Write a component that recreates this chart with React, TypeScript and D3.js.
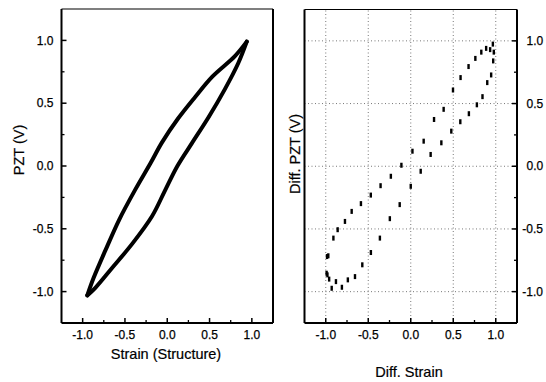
import React from "react";
import * as d3 from "d3";

// Left panel: hysteresis loop, Strain (Structure) vs PZT (V)
const upStrain = [-0.945, -0.87, -0.73, -0.57, -0.38, -0.2, -0.06, 0.13, 0.33, 0.53, 0.8, 0.94];
const upPzt = [-1.03, -0.89, -0.67, -0.43, -0.19, 0.02, 0.19, 0.38, 0.55, 0.71, 0.875, 0.99];
const downStrain = [0.94, 0.84, 0.68, 0.49, 0.29, 0.12, -0.03, -0.18, -0.415, -0.65, -0.85, -0.945];
const downPzt = [0.99, 0.82, 0.61, 0.39, 0.18, 0.0, -0.2, -0.4, -0.62, -0.81, -0.97, -1.03];

// Right panel: Diff. Strain vs Diff. PZT (V) sample points
const diffStrain = [
  -0.98, -0.97, -0.985, -0.91, -0.86, -0.774, -0.695, -0.586, -0.47, -0.355, -0.234, -0.11,
  0.02, 0.152, 0.274, 0.387, 0.497, 0.586, 0.68, 0.76, 0.83, 0.887, 0.934, 0.966, 0.977,
  0.97, 0.946, 0.9, 0.844, 0.778, 0.684, 0.583, 0.477, 0.36, 0.234, 0.117, 0.0, -0.13,
  -0.246, -0.363, -0.469, -0.57, -0.656, -0.74, -0.81, -0.88, -0.93, -0.96, -0.99,
];
const diffPzt = [
  -0.866, -0.714, -0.72, -0.573, -0.506, -0.44, -0.36, -0.298, -0.23, -0.155, -0.08, 0.008,
  0.12, 0.2, 0.373, 0.454, 0.608, 0.707, 0.795, 0.86, 0.91, 0.94, 0.93, 0.974, 0.91,
  0.84, 0.728, 0.667, 0.555, 0.49, 0.419, 0.355, 0.28, 0.187, 0.094, -0.04, -0.16, -0.306,
  -0.418, -0.573, -0.688, -0.786, -0.88, -0.906, -0.965, -0.92, -0.973, -0.9, -0.853,
];

const majorTicks = [-1, -0.5, 0, 0.5, 1];
const minorTicks = [-0.75, -0.25, 0.25, 0.75];
const tickLabels = ["-1.0", "-0.5", "0.0", "0.5", "1.0"];

const W = 546;
const H = 382;
const FONT = "'Liberation Sans', Arial, Helvetica, sans-serif";

const xL = d3.scaleLinear().domain([-1.25, 1.25]).range([61.5, 273]);
const yL = d3.scaleLinear().domain([-1.25, 1.25]).range([323, 9]);
const xR = d3.scaleLinear().domain([-1.25, 1.25]).range([304.5, 517]);
const yR = d3.scaleLinear().domain([-1.25, 1.25]).range([323, 9.5]);

export default function App() {
  const upPts: [number, number][] = upStrain.map((s, i) => [xL(s), yL(upPzt[i])]);
  const downPts: [number, number][] = downStrain.map((s, i) => [xL(s), yL(downPzt[i])]);
  const pathGen = d3.line().curve(d3.curveCatmullRom.alpha(0.5));

  const [lx0, lx1] = xL.range();
  const [ly0, ly1] = yL.range();
  const [rx0, rx1] = xR.range();
  const [ry0, ry1] = yR.range();

  return (
    <svg
      width={W}
      height={H}
      style={{ position: "absolute", left: 0, top: 0, background: "#fff" }}
      fontFamily={FONT}
    >
      <rect x={0} y={0} width={W} height={H} fill="#fff" />

      {/* ---------- LEFT PANEL ---------- */}
      <g>
        <path d={pathGen(upPts) || ""} fill="none" stroke="#000" strokeWidth={4} strokeLinecap="round" strokeLinejoin="round" />
        <path d={pathGen(downPts) || ""} fill="none" stroke="#000" strokeWidth={4} strokeLinecap="round" strokeLinejoin="round" />

        {/* frame */}
        <line x1={lx0} y1={ly1} x2={lx1} y2={ly1} stroke="#000" strokeWidth={1.2} />
        <line x1={lx1} y1={ly1} x2={lx1} y2={ly0} stroke="#000" strokeWidth={2} />
        <line x1={lx0} y1={ly1} x2={lx0} y2={ly0} stroke="#000" strokeWidth={2} />
        <line x1={lx0} y1={ly0} x2={lx1} y2={ly0} stroke="#000" strokeWidth={2} />

        {/* x ticks */}
        {majorTicks.map((t) => (
          <line key={"lxM" + t} x1={xL(t)} x2={xL(t)} y1={ly0} y2={ly0 - 5} stroke="#000" strokeWidth={1.5} />
        ))}
        {minorTicks.map((t) => (
          <line key={"lxm" + t} x1={xL(t)} x2={xL(t)} y1={ly0} y2={ly0 - 3} stroke="#000" strokeWidth={1.3} />
        ))}
        {majorTicks.map((t, i) => (
          <text key={"lxl" + t} x={xL(t)} y={339} fontSize={12} textAnchor="middle" fill="#000" stroke="#000" strokeWidth={0.25}>
            {tickLabels[i]}
          </text>
        ))}

        {/* y ticks */}
        {majorTicks.map((t) => (
          <line key={"lyM" + t} x1={lx0} x2={lx0 + 5} y1={yL(t)} y2={yL(t)} stroke="#000" strokeWidth={1.5} />
        ))}
        {minorTicks.map((t) => (
          <line key={"lym" + t} x1={lx0} x2={lx0 + 3} y1={yL(t)} y2={yL(t)} stroke="#000" strokeWidth={1.3} />
        ))}
        {majorTicks.map((t, i) => (
          <text key={"lyl" + t} x={53.5} y={yL(t) + 4.2} fontSize={12} textAnchor="end" fill="#000" stroke="#000" strokeWidth={0.25}>
            {tickLabels[i]}
          </text>
        ))}

        <text x={166} y={359} fontSize={14.5} textAnchor="middle" fill="#000" stroke="#000" strokeWidth={0.2}>
          Strain (Structure)
        </text>
        <text
          transform={`translate(23.5,150) rotate(-90)`}
          fontSize={14.5}
          textAnchor="middle"
          fill="#000"
          stroke="#000"
          strokeWidth={0.2}
        >
          PZT (V)
        </text>
      </g>

      {/* ---------- RIGHT PANEL ---------- */}
      <g>
        {/* grid */}
        {majorTicks.map((t) => (
          <line key={"rgx" + t} x1={xR(t)} x2={xR(t)} y1={ry0} y2={ry1} stroke="#555" strokeWidth={0.8} strokeDasharray="1,2.5" />
        ))}
        {majorTicks.map((t) => (
          <line key={"rgy" + t} x1={rx0} x2={rx1} y1={yR(t)} y2={yR(t)} stroke="#555" strokeWidth={0.8} strokeDasharray="1,2.5" />
        ))}

        {/* points */}
        {diffStrain.map((s, i) => (
          <rect
            key={"pt" + i}
            x={xR(s) - 1.2}
            y={yR(diffPzt[i]) - 2.5}
            width={2.4}
            height={5}
            fill="#000"
          />
        ))}

        {/* frame */}
        <line x1={rx0} y1={ry1} x2={rx1} y2={ry1} stroke="#000" strokeWidth={1.2} />
        <line x1={rx0} y1={ry1} x2={rx0} y2={ry0} stroke="#000" strokeWidth={2} />
        <line x1={rx1} y1={ry1} x2={rx1} y2={ry0} stroke="#000" strokeWidth={2} />
        <line x1={rx0} y1={ry0} x2={rx1} y2={ry0} stroke="#000" strokeWidth={2} />

        {/* x ticks */}
        {majorTicks.map((t) => (
          <line key={"rxM" + t} x1={xR(t)} x2={xR(t)} y1={ry0} y2={ry0 - 5} stroke="#000" strokeWidth={1.5} />
        ))}
        {minorTicks.map((t) => (
          <line key={"rxm" + t} x1={xR(t)} x2={xR(t)} y1={ry0} y2={ry0 - 3} stroke="#000" strokeWidth={1.3} />
        ))}
        {majorTicks.map((t, i) => (
          <text key={"rxl" + t} x={xR(t)} y={339} fontSize={12} textAnchor="middle" fill="#000" stroke="#000" strokeWidth={0.25}>
            {tickLabels[i]}
          </text>
        ))}

        {/* y ticks (right side, inward) */}
        {majorTicks.map((t) => (
          <line key={"ryM" + t} x1={rx1} x2={rx1 - 5} y1={yR(t)} y2={yR(t)} stroke="#000" strokeWidth={1.5} />
        ))}
        {minorTicks.map((t) => (
          <line key={"rym" + t} x1={rx1} x2={rx1 - 3} y1={yR(t)} y2={yR(t)} stroke="#000" strokeWidth={1.3} />
        ))}
        {majorTicks.map((t, i) => (
          <text key={"ryl" + t} x={t < 0 ? 522.3 : 526.5} y={yR(t) + 4.2} fontSize={12} textAnchor="start" fill="#000" stroke="#000" strokeWidth={0.25}>
            {tickLabels[i]}
          </text>
        ))}

        <text x={409} y={377} fontSize={14.5} textAnchor="middle" fill="#000" stroke="#000" strokeWidth={0.2}>
          Diff. Strain
        </text>
        <text
          transform={`translate(300,154) rotate(-90)`}
          fontSize={14.5}
          textAnchor="middle"
          fill="#000"
          stroke="#000"
          strokeWidth={0.2}
        >
          Diff. PZT (V)
        </text>
      </g>
    </svg>
  );
}
